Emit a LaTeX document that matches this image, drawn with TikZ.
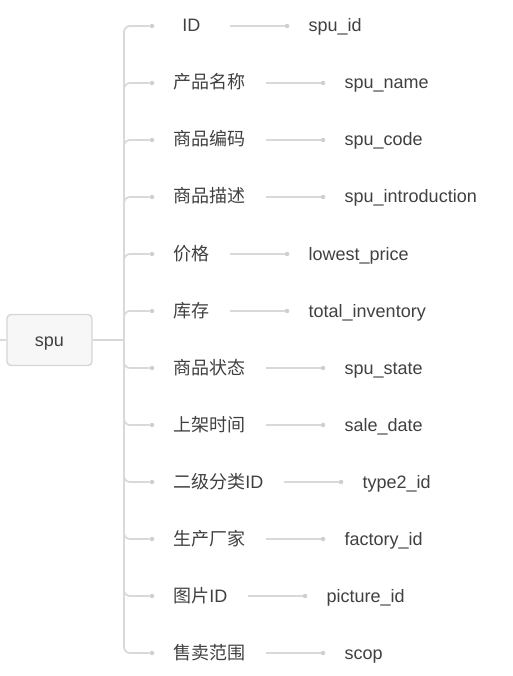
\documentclass[tikz,border=0pt]{standalone}
\usepackage{fontspec}
\setmainfont{Liberation Sans}
\newfontfamily\cjk{Noto Sans CJK SC}
\usetikzlibrary{positioning}
\definecolor{txt}{HTML}{404040}
\definecolor{ln}{HTML}{D9D9D9}
\definecolor{pt}{HTML}{CFCFCF}
\definecolor{boxfill}{HTML}{F7F7F7}
\definecolor{boxline}{HTML}{D4D4D4}
\tikzset{
  root/.style={draw=boxline,fill=boxfill,line width=1.3pt,rounded corners=4pt,
    minimum width=85pt,minimum height=51pt,inner sep=0pt,text height=12pt,text depth=0pt},
  lbl/.style={inner xsep=10pt,inner ysep=0pt,minimum width=56pt,text height=12pt,text depth=0pt},
  val/.style={inner xsep=10pt,inner ysep=0pt,text height=12pt,text depth=0pt},
  pin/.style={circle,fill=pt,inner sep=0pt,minimum size=4.5pt},
  branch/.style={draw=ln,line width=1.5pt},
  trunk/.style={draw=ln,line width=1.8pt,rounded corners=6pt}
}
\begin{document}
\begin{tikzpicture}[x=1pt,y=-1pt,font=\fontsize{18}{20}\selectfont,text=txt]
\useasboundingbox (0,0) rectangle (513,676);
\node[root] (spu) at (49.5,340) {spu};
\coordinate (stub) at (0,340);
\coordinate (fork) at (124,340);
\draw[branch] (stub) -- (spu);
\draw[branch] (spu) -- (fork);

\node[pin] (a1) at (152,26) {};
\node[pin] (a2) at (152,83) {};
\node[pin] (a3) at (152,140) {};
\node[pin] (a4) at (152,197) {};
\node[pin] (a5) at (152,254) {};
\node[pin] (a6) at (152,311) {};
\node[pin] (a7) at (152,368) {};
\node[pin] (a8) at (152,425) {};
\node[pin] (a9) at (152,482) {};
\node[pin] (a10) at (152,539) {};
\node[pin] (a11) at (152,596) {};
\node[pin] (a12) at (152,653) {};

\draw[trunk] (fork) |- (a1);
\draw[trunk] (fork) |- (a2);
\draw[trunk] (fork) |- (a3);
\draw[trunk] (fork) |- (a4);
\draw[trunk] (fork) |- (a5);
\draw[trunk] (fork) |- (a6);
\draw[trunk] (fork) |- (a7);
\draw[trunk] (fork) |- (a8);
\draw[trunk] (fork) |- (a9);
\draw[trunk] (fork) |- (a10);
\draw[trunk] (fork) |- (a11);
\draw[trunk] (fork) |- (a12);

\node[lbl,right=8.75pt of a1] (l1) {ID};
\node[lbl,right=8.75pt of a2] (l2) {\cjk 产品名称};
\node[lbl,right=8.75pt of a3] (l3) {\cjk 商品编码};
\node[lbl,right=8.75pt of a4] (l4) {\cjk 商品描述};
\node[lbl,right=8.75pt of a5] (l5) {\cjk 价格};
\node[lbl,right=8.75pt of a6] (l6) {\cjk 库存};
\node[lbl,right=8.75pt of a7] (l7) {\cjk 商品状态};
\node[lbl,right=8.75pt of a8] (l8) {\cjk 上架时间};
\node[lbl,right=8.75pt of a9] (l9) {{\cjk 二级分类}ID};
\node[lbl,right=8.75pt of a10] (l10) {\cjk 生产厂家};
\node[lbl,right=8.75pt of a11] (l11) {{\cjk 图片}ID};
\node[lbl,right=8.75pt of a12] (l12) {\cjk 售卖范围};

\node[pin,right=65pt of l1] (b1) {};
\node[pin,right=65pt of l2] (b2) {};
\node[pin,right=65pt of l3] (b3) {};
\node[pin,right=65pt of l4] (b4) {};
\node[pin,right=65pt of l5] (b5) {};
\node[pin,right=65pt of l6] (b6) {};
\node[pin,right=65pt of l7] (b7) {};
\node[pin,right=65pt of l8] (b8) {};
\node[pin,right=65pt of l9] (b9) {};
\node[pin,right=65pt of l10] (b10) {};
\node[pin,right=65pt of l11] (b11) {};
\node[pin,right=65pt of l12] (b12) {};

\draw[branch,shorten <=10pt] (l1) -- (b1);
\draw[branch,shorten <=10pt] (l2) -- (b2);
\draw[branch,shorten <=10pt] (l3) -- (b3);
\draw[branch,shorten <=10pt] (l4) -- (b4);
\draw[branch,shorten <=10pt] (l5) -- (b5);
\draw[branch,shorten <=10pt] (l6) -- (b6);
\draw[branch,shorten <=10pt] (l7) -- (b7);
\draw[branch,shorten <=10pt] (l8) -- (b8);
\draw[branch,shorten <=10pt] (l9) -- (b9);
\draw[branch,shorten <=10pt] (l10) -- (b10);
\draw[branch,shorten <=10pt] (l11) -- (b11);
\draw[branch,shorten <=10pt] (l12) -- (b12);

\node[val,right=9pt of b1] (v1) {spu\_id};
\node[val,right=9pt of b2] (v2) {spu\_name};
\node[val,right=9pt of b3] (v3) {spu\_code};
\node[val,right=9pt of b4] (v4) {spu\_introduction};
\node[val,right=9pt of b5] (v5) {lowest\_price};
\node[val,right=9pt of b6] (v6) {total\_inventory};
\node[val,right=9pt of b7] (v7) {spu\_state};
\node[val,right=9pt of b8] (v8) {sale\_date};
\node[val,right=9pt of b9] (v9) {type2\_id};
\node[val,right=9pt of b10] (v10) {factory\_id};
\node[val,right=9pt of b11] (v11) {picture\_id};
\node[val,right=9pt of b12] (v12) {scop};
\end{tikzpicture}
\end{document}
